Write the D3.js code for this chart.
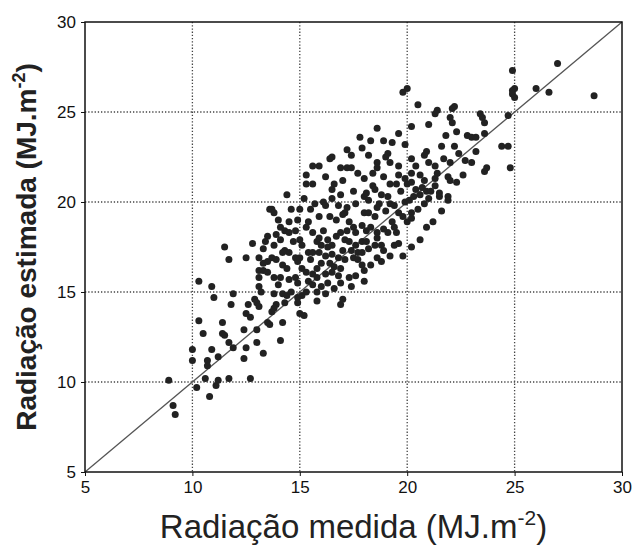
<!DOCTYPE html>
<html>
<head>
<meta charset="utf-8">
<script src="https://cdn.jsdelivr.net/npm/d3@7"></script>
<style>
  body { margin: 0; background: #fff; }
  svg { font-family: "Liberation Sans", Arial, sans-serif; }
</style>
</head>
<body>
<div id="chart"></div>
<script>
// radiação medida (x) / estimada (y), MJ.m-2
const medida = [
  11.0, 11.9, 11.8, 12.6, 13.0, 13.1, 12.9, 13.2, 12.5, 12.7, 10.3, 11.4, 10.5, 11.4, 11.5, 11.7, 11.9, 12.4, 13.0, 13.5,
  13.0, 12.5, 12.4, 13.3, 10.0, 10.0, 10.9, 10.7, 10.7, 11.2, 8.9, 10.2, 10.6, 11.1, 11.2, 11.7, 12.7, 10.8, 9.1, 9.2,
  13.6, 12.8, 13.5, 13.4, 13.3, 11.5, 11.7, 12.5, 13.1, 13.3, 13.5, 13.1, 13.3, 13.5, 13.1, 10.3, 10.9, 13.1,
  18.6, 17.8, 17.2, 18.2, 16.5, 16.4, 15.9, 16.9, 17.2, 17.4, 18.6, 18.6,
  20.0, 19.8, 20.5, 21.4, 21.3, 22.2, 22.1, 23.4, 23.5, 23.6, 22.0, 22.1, 21.0, 20.2, 22.3, 21.8, 22.8, 23.0, 23.2, 23.6,
  21.6, 22.2, 20.9, 23.2, 19.9, 18.9, 19.3, 19.1, 19.0, 20.2, 22.7, 21.0, 21.3, 22.0, 23.7, 19.2,
  24.9, 25.0, 24.9, 24.9, 25.0, 24.7, 26.0, 26.6, 27.0, 28.7, 24.4, 24.7, 24.8,
  21.4, 21.3, 21.9, 22.3, 21.5, 21.5, 21.9, 21.9, 21.6, 23.6,
  20.6, 19.6, 20.2, 18.9, 18.8, 19.1, 20.0, 20.2, 20.2, 19.4, 19.5, 19.6, 19.2, 19.4, 19.9, 20.1, 20.3, 18.8, 19.1, 19.5,
  20.0, 20.2, 19.2, 19.6, 20.2, 20.6, 20.7, 20.9, 21.0, 20.8, 20.4, 18.7,
  16.6, 16.5, 16.9, 16.5, 17.2, 17.1, 17.0, 17.6, 18.0, 18.1, 18.2, 18.4, 18.5, 17.7, 16.7, 17.3, 17.5, 17.2, 18.0, 18.2,
  18.5, 17.9, 18.1, 18.3, 18.6, 16.9, 16.7, 16.3, 16.5, 16.3, 17.1, 17.3, 17.6, 17.9, 18.1, 18.5, 17.0, 17.4, 17.7, 17.9,
  16.5, 16.8, 17.1, 17.5, 17.7, 17.9, 16.4, 16.6, 16.9, 16.5, 16.8, 17.3, 16.3, 16.9, 18.6, 18.2,
  15.3, 15.6, 15.3, 14.4, 16.1, 13.7, 13.8, 15.5, 14.5, 14.1, 14.3, 14.5, 15.4, 15.3, 15.6, 16.1, 14.1, 15.0, 15.1, 13.8,
  15.8, 14.3, 14.5, 14.8, 14.9, 15.4, 15.6, 15.5, 15.9, 13.7, 13.9, 14.2, 14.4, 15.1, 15.3, 15.8, 13.8, 14.1, 14.5, 14.9,
  15.4, 15.6, 15.8, 14.0,
  13.8, 14.2, 14.4, 14.6, 14.9, 15.1, 15.3, 15.8, 13.9, 14.3, 13.7, 13.8, 15.0, 15.2, 14.9, 15.8, 16.9, 14.2, 13.6, 14.1,
  15.0, 15.2, 15.7, 15.9, 16.2, 15.9, 16.0, 16.2, 16.0, 15.6, 16.2, 15.0, 14.7, 14.8, 14.9, 14.0, 13.9, 14.6, 14.2, 14.8,
  17.6, 18.0, 18.3, 18.8, 17.0, 16.2, 16.6, 17.4, 16.0, 18.0,
  18.9, 19.3, 19.8, 20.5, 20.8, 21.1, 21.3, 20.6, 19.0, 18.6, 19.7, 19.9, 18.9, 18.4, 19.6, 20.4, 20.8, 21.7, 22.4, 22.6,
  23.0, 22.0, 21.2, 20.9, 19.8, 19.2,
  17.4, 17.9, 18.3, 19.6, 18.0, 17.0, 16.2, 15.6, 17.5, 16.8, 16.4, 17.6, 18.6, 19.4
];
const estimada = [
  14.7, 14.9, 14.3, 14.3, 14.4, 14.2, 14.6, 15.0, 13.8, 13.6, 13.4, 13.3, 12.7, 12.7, 12.6, 12.2, 11.9, 12.9, 12.9, 13.3,
  12.2, 11.9, 11.3, 11.6, 11.8, 11.2, 11.8, 11.2, 10.9, 11.4, 10.1, 9.7, 10.2, 9.8, 10.1, 10.2, 10.2, 9.2, 8.7, 8.2,
  19.6, 17.7, 18.1, 17.8, 17.4, 17.5, 16.8, 16.9, 16.9, 16.6, 16.7, 16.2, 16.2, 16.1, 15.8, 15.6, 15.3, 15.3,
  24.1, 23.6, 22.9, 22.6, 22.5, 22.4, 22.0, 21.9, 21.9, 21.9, 22.2, 21.9,
  26.3, 26.1, 25.4, 25.1, 24.9, 25.3, 25.2, 24.9, 24.7, 24.4, 24.7, 24.4, 24.3, 24.2, 23.9, 23.7, 23.7, 23.6, 23.6, 23.8,
  23.1, 23.1, 22.8, 22.8, 23.2, 23.4, 23.3, 22.7, 22.5, 22.4, 22.3, 22.2, 22.0, 22.2, 21.9, 22.2,
  27.3, 26.3, 26.2, 26.0, 25.8, 24.8, 26.3, 26.1, 27.7, 25.9, 23.1, 23.1, 21.9,
  21.6, 21.3, 21.4, 21.1, 20.5, 20.3, 20.3, 20.1, 19.5, 21.7,
  17.9, 17.7, 17.5, 17.3, 17.6, 18.3, 18.9, 19.4, 19.1, 18.6, 18.3, 19.4, 19.9, 19.8, 20.0, 20.1, 20.3, 20.4, 20.3, 21.0,
  21.0, 21.1, 21.0, 21.5, 21.6, 21.5, 20.8, 20.6, 20.2, 21.2, 20.7, 19.9,
  21.0, 20.7, 20.4, 20.2, 19.7, 19.4, 19.3, 19.9, 20.3, 20.5, 20.1, 20.9, 20.7, 21.6, 19.0, 18.9, 18.6, 18.4, 19.4, 19.4,
  19.2, 18.7, 18.4, 18.6, 18.3, 18.3, 18.1, 17.9, 17.6, 17.5, 17.9, 17.8, 17.6, 17.8, 17.8, 17.6, 17.3, 17.3, 17.2, 17.2,
  17.1, 16.9, 16.8, 16.9, 16.8, 16.5, 16.6, 16.4, 16.3, 16.1, 15.9, 15.8, 15.5, 15.5, 16.9, 17.4,
  21.5, 21.0, 21.0, 20.4, 20.0, 19.6, 19.4, 19.6, 18.9, 18.6, 18.4, 18.3, 18.9, 18.6, 18.3, 18.4, 17.9, 17.9, 17.6, 17.6,
  17.8, 17.3, 17.2, 16.9, 16.7, 17.2, 17.2, 16.8, 17.2, 16.9, 16.8, 16.5, 16.3, 16.3, 16.1, 16.3, 15.8, 15.8, 15.7, 15.5,
  15.6, 15.4, 15.8, 15.4,
  14.9, 14.9, 14.8, 15.0, 14.7, 14.8, 15.0, 15.0, 14.3, 14.4, 13.9, 14.1, 13.8, 13.7, 14.4, 14.5, 14.3, 13.3, 13.2, 12.3,
  19.6, 20.2, 19.9, 19.2, 19.8, 18.0, 17.6, 17.0, 16.6, 16.0, 16.0, 16.9, 17.8, 18.4, 19.0, 19.0, 18.2, 19.6, 17.2, 15.8,
  15.9, 16.2, 16.5, 16.7, 14.6, 14.9, 15.2, 15.3, 15.3, 15.6,
  18.5, 18.9, 19.2, 19.6, 19.9, 20.6, 20.9, 20.4, 19.5, 19.7, 20.6, 21.3, 21.4, 21.6, 22.0, 22.0, 22.6, 22.4, 22.7, 21.5,
  22.2, 21.2, 18.9, 18.6, 17.0, 17.0,
  22.6, 23.0, 23.4, 23.8, 21.3, 21.2, 21.4, 22.0, 20.6, 19.8, 19.2, 18.3, 18.0, 17.6
];
const xTicks = [5, 10, 15, 20, 25, 30];
const yTicks = [5, 10, 15, 20, 25, 30];

const W = 632, H = 548;
const margin = { top: 22, right: 10, bottom: 76, left: 85 };
const width = W - margin.left - margin.right;
const height = H - margin.top - margin.bottom;

const svg = d3.select('#chart').append('svg')
    .attr('width', W)
    .attr('height', H);

const g = svg.append('g')
    .attr('transform', `translate(${margin.left},${margin.top})`);

const x = d3.scaleLinear().domain([5, 30]).range([0, width]);
const y = d3.scaleLinear().domain([5, 30]).range([height, 0]);

// dotted grid
g.append('g')
    .selectAll('line')
    .data(xTicks.slice(1, -1))
    .join('line')
    .attr('x1', d => x(d)).attr('x2', d => x(d))
    .attr('y1', 0).attr('y2', height)
    .attr('stroke', '#444')
    .attr('stroke-width', 1.3)
    .attr('stroke-dasharray', '1.3,1.9');

g.append('g')
    .selectAll('line')
    .data(yTicks.slice(1, -1))
    .join('line')
    .attr('y1', d => y(d)).attr('y2', d => y(d))
    .attr('x1', 0).attr('x2', width)
    .attr('stroke', '#444')
    .attr('stroke-width', 1.3)
    .attr('stroke-dasharray', '1.3,1.9');

// axes
const xAxis = g.append('g')
    .attr('transform', `translate(0,${height})`)
    .call(d3.axisBottom(x).tickValues(xTicks).tickSize(4).tickPadding(5));
const yAxis = g.append('g')
    .call(d3.axisLeft(y).tickValues(yTicks).tickSize(4).tickPadding(5));

[xAxis, yAxis].forEach(a => {
    a.select('.domain').remove();
    a.selectAll('line').attr('stroke', '#111');
    a.selectAll('text').attr('font-size', 17).attr('fill', '#111')
        .attr('font-family', '"Liberation Sans", Arial, sans-serif');
});

// 1:1 line
g.append('line')
    .attr('x1', x(5)).attr('y1', y(5))
    .attr('x2', x(30)).attr('y2', y(30))
    .attr('stroke', '#555')
    .attr('stroke-width', 1.3);

// points
const pts = medida.map((m, i) => ({ m, e: estimada[i] }));
g.selectAll('.pt')
    .data(pts)
    .join('circle')
    .attr('class', 'pt')
    .attr('cx', d => x(d.m))
    .attr('cy', d => y(d.e))
    .attr('r', 3.5)
    .attr('fill', '#222');

// frame
g.append('rect')
    .attr('width', width).attr('height', height)
    .attr('fill', 'none')
    .attr('stroke', '#111')
    .attr('stroke-width', 1.5);

// axis titles
const xt = svg.append('text')
    .attr('x', margin.left + width / 2)
    .attr('y', 538)
    .attr('text-anchor', 'middle')
    .attr('font-size', 33)
    .attr('fill', '#222');
xt.append('tspan').text('Radiação medida (MJ.m');
xt.append('tspan').attr('font-size', 21).attr('dy', -13).text('-2');
xt.append('tspan').attr('dy', 13).text(')');

const yt = svg.append('text')
    .attr('transform', `translate(36,${margin.top + height / 2}) rotate(-90)`)
    .attr('text-anchor', 'middle')
    .attr('font-size', 28)
    .attr('font-weight', 'bold')
    .attr('fill', '#222');
yt.append('tspan').text('Radiação estimada (MJ.m');
yt.append('tspan').attr('font-size', 18).attr('dy', -11).text('-2');
yt.append('tspan').attr('dy', 11).text(')');
</script>
</body>
</html>
